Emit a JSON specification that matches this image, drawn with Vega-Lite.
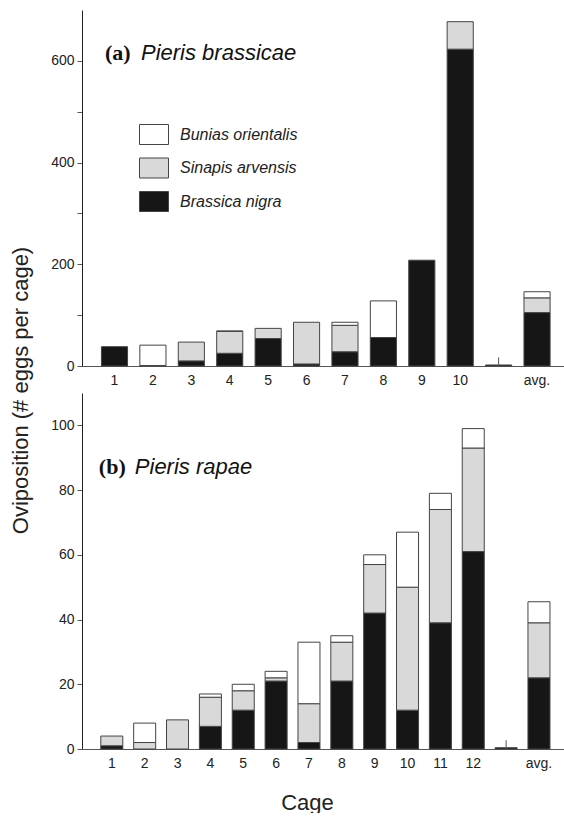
{
  "$schema": "https://vega.github.io/schema/vega-lite/v6.json",
  "bounds": "flush",
  "spacing": 27,
  "padding": {"left": 9, "top": 10, "right": 0, "bottom": 0},
  "background": "white",
  "config": {
    "view": {"stroke": null},
    "font": "Liberation Sans",
    "axis": {"labelFont": "Liberation Sans", "titleFont": "Liberation Sans", "grid": false, "labelColor": "#222", "titleColor": "#222", "titleFontWeight": "normal"}
  },
  "datasets": {
    "a": [
      {"Cage": "1", "Plant": "Brassica nigra", "Eggs": 38, "o": 1},
      {"Cage": "2", "Plant": "Brassica nigra", "Eggs": 1, "o": 1},
      {"Cage": "2", "Plant": "Bunias orientalis", "Eggs": 40, "o": 3},
      {"Cage": "3", "Plant": "Brassica nigra", "Eggs": 10, "o": 1},
      {"Cage": "3", "Plant": "Sinapis arvensis", "Eggs": 37, "o": 2},
      {"Cage": "4", "Plant": "Brassica nigra", "Eggs": 25, "o": 1},
      {"Cage": "4", "Plant": "Sinapis arvensis", "Eggs": 43, "o": 2},
      {"Cage": "4", "Plant": "Bunias orientalis", "Eggs": 1, "o": 3},
      {"Cage": "5", "Plant": "Brassica nigra", "Eggs": 54, "o": 1},
      {"Cage": "5", "Plant": "Sinapis arvensis", "Eggs": 20, "o": 2},
      {"Cage": "6", "Plant": "Brassica nigra", "Eggs": 4, "o": 1},
      {"Cage": "6", "Plant": "Sinapis arvensis", "Eggs": 82, "o": 2},
      {"Cage": "7", "Plant": "Brassica nigra", "Eggs": 28, "o": 1},
      {"Cage": "7", "Plant": "Sinapis arvensis", "Eggs": 52, "o": 2},
      {"Cage": "7", "Plant": "Bunias orientalis", "Eggs": 6, "o": 3},
      {"Cage": "8", "Plant": "Brassica nigra", "Eggs": 56, "o": 1},
      {"Cage": "8", "Plant": "Bunias orientalis", "Eggs": 72, "o": 3},
      {"Cage": "9", "Plant": "Brassica nigra", "Eggs": 208, "o": 1},
      {"Cage": "10", "Plant": "Brassica nigra", "Eggs": 623, "o": 1},
      {"Cage": "10", "Plant": "Sinapis arvensis", "Eggs": 54, "o": 2},
      {"Cage": " ", "Plant": "Brassica nigra", "Eggs": 2, "o": 1},
      {"Cage": "avg.", "Plant": "Brassica nigra", "Eggs": 105, "o": 1},
      {"Cage": "avg.", "Plant": "Sinapis arvensis", "Eggs": 29, "o": 2},
      {"Cage": "avg.", "Plant": "Bunias orientalis", "Eggs": 12, "o": 3}
    ],
    "b": [
      {"Cage": "1", "Plant": "Brassica nigra", "Eggs": 1, "o": 1},
      {"Cage": "1", "Plant": "Sinapis arvensis", "Eggs": 3, "o": 2},
      {"Cage": "2", "Plant": "Sinapis arvensis", "Eggs": 2, "o": 2},
      {"Cage": "2", "Plant": "Bunias orientalis", "Eggs": 6, "o": 3},
      {"Cage": "3", "Plant": "Sinapis arvensis", "Eggs": 9, "o": 2},
      {"Cage": "4", "Plant": "Brassica nigra", "Eggs": 7, "o": 1},
      {"Cage": "4", "Plant": "Sinapis arvensis", "Eggs": 9, "o": 2},
      {"Cage": "4", "Plant": "Bunias orientalis", "Eggs": 1, "o": 3},
      {"Cage": "5", "Plant": "Brassica nigra", "Eggs": 12, "o": 1},
      {"Cage": "5", "Plant": "Sinapis arvensis", "Eggs": 6, "o": 2},
      {"Cage": "5", "Plant": "Bunias orientalis", "Eggs": 2, "o": 3},
      {"Cage": "6", "Plant": "Brassica nigra", "Eggs": 21, "o": 1},
      {"Cage": "6", "Plant": "Sinapis arvensis", "Eggs": 1, "o": 2},
      {"Cage": "6", "Plant": "Bunias orientalis", "Eggs": 2, "o": 3},
      {"Cage": "7", "Plant": "Brassica nigra", "Eggs": 2, "o": 1},
      {"Cage": "7", "Plant": "Sinapis arvensis", "Eggs": 12, "o": 2},
      {"Cage": "7", "Plant": "Bunias orientalis", "Eggs": 19, "o": 3},
      {"Cage": "8", "Plant": "Brassica nigra", "Eggs": 21, "o": 1},
      {"Cage": "8", "Plant": "Sinapis arvensis", "Eggs": 12, "o": 2},
      {"Cage": "8", "Plant": "Bunias orientalis", "Eggs": 2, "o": 3},
      {"Cage": "9", "Plant": "Brassica nigra", "Eggs": 42, "o": 1},
      {"Cage": "9", "Plant": "Sinapis arvensis", "Eggs": 15, "o": 2},
      {"Cage": "9", "Plant": "Bunias orientalis", "Eggs": 3, "o": 3},
      {"Cage": "10", "Plant": "Brassica nigra", "Eggs": 12, "o": 1},
      {"Cage": "10", "Plant": "Sinapis arvensis", "Eggs": 38, "o": 2},
      {"Cage": "10", "Plant": "Bunias orientalis", "Eggs": 17, "o": 3},
      {"Cage": "11", "Plant": "Brassica nigra", "Eggs": 39, "o": 1},
      {"Cage": "11", "Plant": "Sinapis arvensis", "Eggs": 35, "o": 2},
      {"Cage": "11", "Plant": "Bunias orientalis", "Eggs": 5, "o": 3},
      {"Cage": "12", "Plant": "Brassica nigra", "Eggs": 61, "o": 1},
      {"Cage": "12", "Plant": "Sinapis arvensis", "Eggs": 32, "o": 2},
      {"Cage": "12", "Plant": "Bunias orientalis", "Eggs": 6, "o": 3},
      {"Cage": " ", "Plant": "Brassica nigra", "Eggs": 0.4, "o": 1},
      {"Cage": "avg.", "Plant": "Brassica nigra", "Eggs": 22, "o": 1},
      {"Cage": "avg.", "Plant": "Sinapis arvensis", "Eggs": 17, "o": 2},
      {"Cage": "avg.", "Plant": "Bunias orientalis", "Eggs": 6.5, "o": 3}
    ],
    "ra": [{"Cage": " ", "lo": 0, "hi": 17}],
    "rb": [{"Cage": " ", "lo": 0, "hi": 2.7}],
    "la": [{"Cage": "1", "v": 616, "lab": "(a)", "name": "Pieris brassicae"}],
    "lb": [{"Cage": "1", "v": 87, "lab": "(b)", "name": "Pieris rapae"}]
  },
  "vconcat": [
    {
      "width": 484,
      "height": 356,
      "layer": [
        {
          "data": {"name": "a"},
          "mark": {"type": "bar", "stroke": "#444", "strokeWidth": 1},
          "encoding": {
            "x": {
              "field": "Cage", "type": "nominal", "sort": null,
              "scale": {"domain": ["1","2","3","4","5","6","7","8","9","10"," ","avg."], "paddingInner": 0.32, "paddingOuter": 0.46, "align": 0.55},
              "axis": {"title": null, "ticks": false, "labelAngle": 0, "labelPadding": 7, "labelFontSize": 14, "domainColor": "#555"}
            },
            "y": {
              "field": "Eggs", "type": "quantitative", "stack": "zero",
              "scale": {"domain": [0, 700], "nice": false},
              "axis": {
                "title": "Oviposition (# eggs per cage)",
                "values": [0,100,200,300,400,500,600],
                "labelExpr": "datum.value % 200 === 0 ? datum.label : ''",
                "tickSize": 5, "tickColor": "#555", "domainColor": "#222",
                "labelFontSize": 14, "labelPadding": 3,
                "titleFontSize": 22, "titleAngle": -90, "titleX": -55, "titleY": 380,
                "titleAlign": "center", "titleBaseline": "alphabetic"
              }
            },
            "color": {
              "field": "Plant", "type": "nominal",
              "scale": {"domain": ["Bunias orientalis", "Sinapis arvensis", "Brassica nigra"], "range": ["#ffffff", "#d9d9d9", "#161616"]},
              "legend": {
                "orient": "none", "legendX": 61.5, "legendY": 114, "title": null, "padding": 0,
                "symbolType": "M-1.45,-1H1.45V1H-1.45Z", "symbolSize": 400,
                "symbolStrokeColor": "#444", "symbolStrokeWidth": 1, "symbolOpacity": 1,
                "labelFont": "Liberation Sans", "labelFontStyle": "italic", "labelFontSize": 16,
                "labelOffset": 15.5, "rowPadding": 8.5, "labelColor": "#222"
              }
            },
            "order": {"field": "o", "type": "quantitative"}
          }
        },
        {
          "data": {"name": "ra"},
          "mark": {"type": "rule", "color": "#555", "strokeWidth": 1},
          "encoding": {
            "x": {"field": "Cage", "type": "nominal"},
            "y": {"field": "lo", "type": "quantitative"},
            "y2": {"field": "hi"}
          }
        },
        {
          "data": {"name": "la"},
          "mark": {"type": "text", "align": "left", "baseline": "middle", "dx": -9.5, "font": "Liberation Serif", "fontWeight": "bold", "fontSize": 22, "color": "#111"},
          "encoding": {
            "x": {"field": "Cage", "type": "nominal"},
            "y": {"field": "v", "type": "quantitative"},
            "text": {"field": "lab"}
          }
        },
        {
          "data": {"name": "la"},
          "mark": {"type": "text", "align": "left", "baseline": "middle", "dx": 26.5, "font": "Liberation Sans", "fontStyle": "italic", "fontSize": 22, "color": "#111"},
          "encoding": {
            "x": {"field": "Cage", "type": "nominal"},
            "y": {"field": "v", "type": "quantitative"},
            "text": {"field": "name"}
          }
        }
      ]
    },
    {
      "width": 484,
      "height": 356,
      "layer": [
        {
          "data": {"name": "b"},
          "mark": {"type": "bar", "stroke": "#444", "strokeWidth": 1},
          "encoding": {
            "x": {
              "field": "Cage", "type": "nominal", "sort": null,
              "scale": {"domain": ["1","2","3","4","5","6","7","8","9","10","11","12"," ","avg."], "paddingInner": 0.33, "paddingOuter": 0.53, "align": 0.54},
              "axis": {"title": "Cage", "ticks": false, "labelAngle": 0, "labelPadding": 7, "labelFontSize": 14, "domainColor": "#555",
                "titleFontSize": 22, "titleX": 225, "titleY": 60, "titleAlign": "center", "titleBaseline": "alphabetic"}
            },
            "y": {
              "field": "Eggs", "type": "quantitative", "stack": "zero",
              "scale": {"domain": [0, 110], "nice": false},
              "axis": {
                "title": null,
                "values": [0,10,20,30,40,50,60,70,80,90,100],
                "labelExpr": "datum.value % 20 === 0 ? datum.label : ''",
                "tickSize": 5, "tickColor": "#555", "domainColor": "#222",
                "labelFontSize": 14, "labelPadding": 3
              }
            },
            "color": {
              "field": "Plant", "type": "nominal",
              "scale": {"domain": ["Bunias orientalis", "Sinapis arvensis", "Brassica nigra"], "range": ["#ffffff", "#d9d9d9", "#161616"]},
              "legend": null
            },
            "order": {"field": "o", "type": "quantitative"}
          }
        },
        {
          "data": {"name": "rb"},
          "mark": {"type": "rule", "color": "#555", "strokeWidth": 1},
          "encoding": {
            "x": {"field": "Cage", "type": "nominal"},
            "y": {"field": "lo", "type": "quantitative"},
            "y2": {"field": "hi"}
          }
        },
        {
          "data": {"name": "lb"},
          "mark": {"type": "text", "align": "left", "baseline": "middle", "dx": -13, "font": "Liberation Serif", "fontWeight": "bold", "fontSize": 22, "color": "#111"},
          "encoding": {
            "x": {"field": "Cage", "type": "nominal"},
            "y": {"field": "v", "type": "quantitative"},
            "text": {"field": "lab"}
          }
        },
        {
          "data": {"name": "lb"},
          "mark": {"type": "text", "align": "left", "baseline": "middle", "dx": 23, "font": "Liberation Sans", "fontStyle": "italic", "fontSize": 22, "color": "#111"},
          "encoding": {
            "x": {"field": "Cage", "type": "nominal"},
            "y": {"field": "v", "type": "quantitative"},
            "text": {"field": "name"}
          }
        }
      ]
    }
  ],
  "resolve": {"scale": {"x": "independent", "y": "independent", "color": "independent"}}
}
